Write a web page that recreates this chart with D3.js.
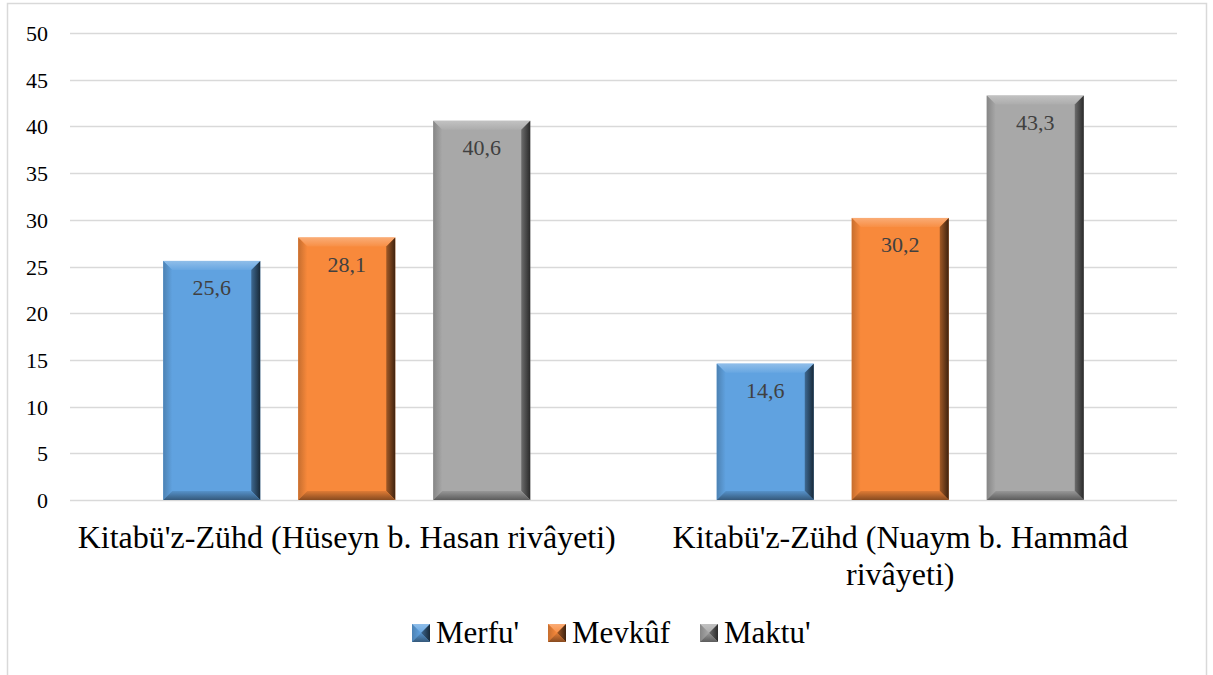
<!DOCTYPE html>
<html>
<head>
<meta charset="utf-8">
<script src="https://cdn.jsdelivr.net/npm/d3@7"></script>
<style>
  body { margin: 0; background: #fff; }
  #chart text { font-family: "Liberation Serif", "Times New Roman", serif; }
</style>
</head>
<body>
<svg id="chart" width="1213" height="675"></svg>
<script>
// Data
const categories = [
  ["Kitabü'z-Zühd (Hüseyn b. Hasan rivâyeti)"],
  ["Kitabü'z-Zühd (Nuaym b. Hammâd", "rivâyeti)"]
];
const seriesNames = ["Merfu'", "Mevkûf", "Maktu'"];
const merfu = [25.6, 14.6];
const mevkuf = [28.1, 30.2];
const maktu = [40.6, 43.3];
const yTicks = [0, 5, 10, 15, 20, 25, 30, 35, 40, 45, 50];

const seriesValues = [merfu, mevkuf, maktu];
const colors = ["#60a2e0", "#f8893b", "#a8a8a8"];

const svg = d3.select("#chart");
const plot = { left: 70, right: 1177, top: 33, bottom: 500 };

// outer frame
svg.append("rect")
  .attr("x", 7.5).attr("y", 3.5)
  .attr("width", 1199).attr("height", 690)
  .attr("fill", "none").attr("stroke", "#d9d9d9").attr("stroke-width", 1.5);

const x0 = d3.scaleBand()
  .domain(d3.range(categories.length))
  .range([plot.left, plot.right]);

const barW = 97, barStep = 135;

const y = d3.scaleLinear().domain([0, 50]).range([plot.bottom, plot.top]);

// gridlines
svg.append("g").selectAll("line")
  .data(yTicks)
  .join("line")
  .attr("x1", plot.left).attr("x2", plot.right)
  .attr("y1", d => Math.round(y(d)) + 0.5).attr("y2", d => Math.round(y(d)) + 0.5)
  .attr("stroke", "#d9d9d9").attr("stroke-width", 1.5);

// y tick labels
svg.append("g").selectAll("text")
  .data(yTicks)
  .join("text")
  .attr("x", 48).attr("y", d => y(d) + 8)
  .attr("text-anchor", "end")
  .style("font-size", "22px")
  .attr("fill", "#000")
  .text(d => d);

function shade(c, k) {
  if (k > 0) return d3.interpolateRgb(c, "#fff")(k);
  return d3.interpolateRgb(c, "#000")(-k);
}

const defs = svg.append("defs");
colors.forEach((c, i) => {
  const g = defs.append("linearGradient").attr("id", "right" + i)
    .attr("x1", 0).attr("x2", 1).attr("y1", 0).attr("y2", 0);
  g.append("stop").attr("offset", 0).attr("stop-color", shade(c, -0.35));
  g.append("stop").attr("offset", 1).attr("stop-color", shade(c, -0.75));
  const t = defs.append("linearGradient").attr("id", "top" + i)
    .attr("x1", 0).attr("x2", 0).attr("y1", 0).attr("y2", 1);
  t.append("stop").attr("offset", 0).attr("stop-color", shade(c, 0.3));
  t.append("stop").attr("offset", 1).attr("stop-color", shade(c, 0.05));
  const b = defs.append("linearGradient").attr("id", "bot" + i)
    .attr("x1", 0).attr("x2", 0).attr("y1", 0).attr("y2", 1);
  b.append("stop").attr("offset", 0).attr("stop-color", shade(c, -0.1));
  b.append("stop").attr("offset", 1).attr("stop-color", shade(c, -0.45));
  const l = defs.append("linearGradient").attr("id", "left" + i)
    .attr("x1", 0).attr("x2", 1).attr("y1", 0).attr("y2", 0);
  l.append("stop").attr("offset", 0).attr("stop-color", shade(c, -0.2));
  l.append("stop").attr("offset", 1).attr("stop-color", shade(c, 0.0));
});

function drawBevelBar(g, bx, by, bw, bh, i, bev) {
  const x1 = bx, x2 = bx + bw, y1 = by, y2 = by + bh;
  const b = Math.min(bev, bh / 2);
  g.append("rect").attr("x", x1).attr("y", y1).attr("width", bw).attr("height", bh)
    .attr("fill", colors[i]);
  g.append("polygon").attr("points", [[x1, y1], [x2, y1], [x2 - b, y1 + b], [x1 + b, y1 + b]].join(" "))
    .attr("fill", `url(#top${i})`);
  g.append("polygon").attr("points", [[x1, y1], [x1 + b, y1 + b], [x1 + b, y2 - b], [x1, y2]].join(" "))
    .attr("fill", `url(#left${i})`);
  g.append("polygon").attr("points", [[x2, y1], [x2, y2], [x2 - b, y2 - b], [x2 - b, y1 + b]].join(" "))
    .attr("fill", `url(#right${i})`);
  g.append("polygon").attr("points", [[x1, y2], [x1 + b, y2 - b], [x2 - b, y2 - b], [x2, y2]].join(" "))
    .attr("fill", `url(#bot${i})`);
}

// bars
const barsG = svg.append("g");
categories.forEach((cat, ci) => {
  const center = x0(ci) + x0.bandwidth() / 2;
  seriesValues.forEach((vals, si) => {
    const v = vals[ci];
    const cx = center + (si - 1) * barStep;
    const by = y(v);
    drawBevelBar(barsG, cx - barW / 2, by, barW, y(0) - by, si, 9);
    barsG.append("text")
      .attr("x", cx).attr("y", by + 34)
      .attr("text-anchor", "middle")
      .style("font-size", "22px")
      .attr("fill", "#404040")
      .text(String(v).replace(".", ","));
  });
});

// category labels
categories.forEach((lines, ci) => {
  const center = x0(ci) + x0.bandwidth() / 2;
  const t = svg.append("text")
    .attr("text-anchor", "middle")
    .style("font-size", "32px")
    .attr("fill", "#000");
  lines.forEach((ln, li) => {
    t.append("tspan").attr("x", center).attr("y", 548 + li * 37).text(ln);
  });
});

// legend
const legX = [412, 548, 700];
const legG = svg.append("g");
seriesNames.forEach((name, i) => {
  const lx = legX[i], ly = 624, s = 18;
  drawBevelBar(legG, lx, ly, s, s, i, 9);
  legG.append("text")
    .attr("x", lx + s + 6).attr("y", 643)
    .style("font-size", "31px")
    .attr("fill", "#000")
    .text(name);
});
</script>
</body>
</html>
